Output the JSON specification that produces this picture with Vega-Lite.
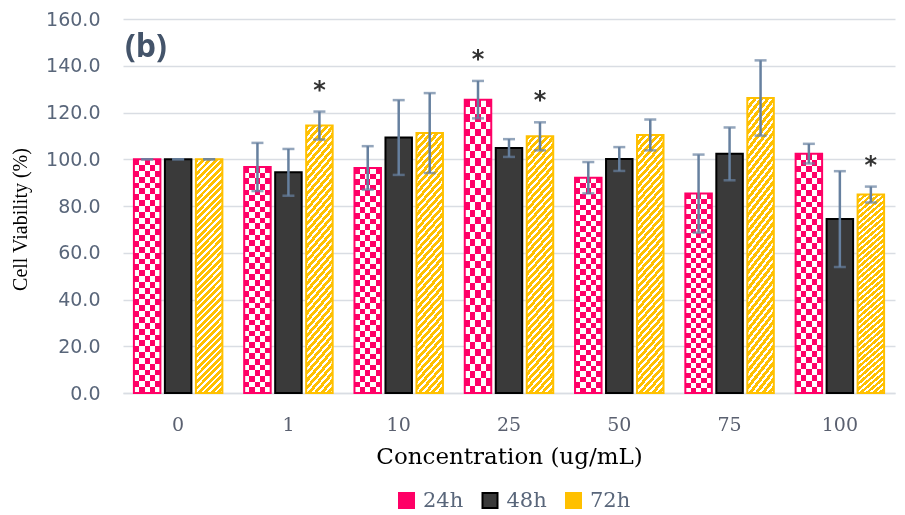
{
  "$schema": "https://vega.github.io/schema/vega-lite/v6.json",
  "width": 772,
  "height": 374,
  "autosize": {"type": "none"},
  "padding": {"left": 123, "top": 19, "right": 10, "bottom": 122},
  "background": "#ffffff",
  "title": {
    "text": "(b)",
    "anchor": "start",
    "frame": "group",
    "offset": -36,
    "dy": 43,
    "baseline": "alphabetic",
    "dx": 2,
    "font": "Open Sans",
    "fontSize": 32,
    "fontWeight": "bold",
    "color": "#44546a"
  },
  "data": {
    "values": [
      {"c": "0", "t": "24h", "v": 100, "e": 0, "s": ""},
      {"c": "0", "t": "48h", "v": 100, "e": 0, "s": ""},
      {"c": "0", "t": "72h", "v": 100, "e": 0, "s": ""},
      {"c": "1", "t": "24h", "v": 96.7, "e": 10.3, "s": ""},
      {"c": "1", "t": "48h", "v": 94.4, "e": 10.0, "s": ""},
      {"c": "1", "t": "72h", "v": 114.4, "e": 6.0, "s": "*"},
      {"c": "10", "t": "24h", "v": 96.3, "e": 9.3, "s": ""},
      {"c": "10", "t": "48h", "v": 109.3, "e": 16.0, "s": ""},
      {"c": "10", "t": "72h", "v": 111.2, "e": 17.1, "s": ""},
      {"c": "25", "t": "24h", "v": 125.5, "e": 8.0, "s": "*"},
      {"c": "25", "t": "48h", "v": 104.8, "e": 3.8, "s": ""},
      {"c": "25", "t": "72h", "v": 109.8, "e": 6.0, "s": "*"},
      {"c": "50", "t": "24h", "v": 92.1, "e": 6.7, "s": ""},
      {"c": "50", "t": "48h", "v": 100.1, "e": 5.1, "s": ""},
      {"c": "50", "t": "72h", "v": 110.4, "e": 6.6, "s": ""},
      {"c": "75", "t": "24h", "v": 85.3, "e": 16.7, "s": ""},
      {"c": "75", "t": "48h", "v": 102.3, "e": 11.3, "s": ""},
      {"c": "75", "t": "72h", "v": 126.2, "e": 16.1, "s": ""},
      {"c": "100", "t": "24h", "v": 102.4, "e": 4.2, "s": ""},
      {"c": "100", "t": "48h", "v": 74.4, "e": 20.5, "s": ""},
      {"c": "100", "t": "72h", "v": 84.9, "e": 3.4, "s": "*"}
    ]
  },
  "transform": [
    {"calculate": "datum.v - datum.e", "as": "lo"},
    {"calculate": "datum.v + datum.e", "as": "hi"}
  ],
  "encoding": {
    "x": {
      "field": "c",
      "type": "nominal",
      "scale": {"domain": ["0", "1", "10", "25", "50", "75", "100"], "paddingInner": 0.157, "paddingOuter": 0.0785},
      "axis": {
        "title": "Concentration (ug/mL)",
        "titleFont": "DejaVu Serif",
        "titleFontSize": 23,
        "titleFontWeight": "normal",
        "titleColor": "#000000",
        "titleBaseline": "alphabetic",
        "titleY": 70,
        "labelAngle": 0,
        "labelFont": "DejaVu Serif",
        "labelFontSize": 19,
        "labelColor": "#5a6070",
        "labelPadding": 22,
        "ticks": false,
        "tickSize": 0,
        "domainColor": "#d9dde3",
        "domainWidth": 1.5,
        "grid": false
      }
    },
    "xOffset": {
      "field": "t",
      "type": "nominal",
      "scale": {"domain": ["24h", "48h", "72h"], "paddingInner": 0.145, "paddingOuter": 0.0725}
    },
    "y": {
      "field": "v",
      "type": "quantitative",
      "scale": {"domain": [0, 160]},
      "axis": {
        "title": "Cell Viability (%)",
        "titleFont": "Liberation Serif",
        "titleFontSize": 20,
        "titleFontWeight": "normal",
        "titleColor": "#000000",
        "titleBaseline": "middle",
        "titleX": -103,
        "titleY": 200,
        "values": [0, 20, 40, 60, 80, 100, 120, 140, 160],
        "format": ".1f",
        "labelFont": "DejaVu Sans",
        "labelFontSize": 19,
        "labelColor": "#59667a",
        "labelPadding": 23,
        "ticks": false,
        "tickSize": 0,
        "domain": false,
        "grid": true,
        "gridColor": "#d9dde3",
        "gridWidth": 1.5
      }
    }
  },
  "layer": [
    {
      "mark": {"type": "bar"},
      "encoding": {
        "fill": {
          "field": "t",
          "type": "nominal",
          "scale": {"domain": ["24h", "48h", "72h"], "range": ["#ff0066", "#3a3a3a", "#ffc000"]},
          "legend": {
            "title": null,
            "orient": "none",
            "legendX": 273,
            "legendY": 471,
            "direction": "horizontal",
            "symbolType": "square",
            "symbolSize": 225,
            "symbolStrokeWidth": 2,
            "labelFont": "DejaVu Serif",
            "labelFontSize": 21,
            "labelColor": "#59667a",
            "labelOffset": 6,
            "columnPadding": 14.5,
            "encode": {
              "symbols": {
                "update": {
                  "fill": [
                    {
                      "test": "datum.value === '72h'",
                      "value": {
                        "gradient": "linear", "x1": 0, "y1": 0, "x2": 1, "y2": 1,
                        "stops": [
                          {"offset": 0, "color": "#ffc000"}, {"offset": 0.22, "color": "#ffc000"},
                          {"offset": 0.22, "color": "#fff"}, {"offset": 0.36, "color": "#fff"},
                          {"offset": 0.36, "color": "#ffc000"}, {"offset": 0.64, "color": "#ffc000"},
                          {"offset": 0.64, "color": "#fff"}, {"offset": 0.78, "color": "#fff"},
                          {"offset": 0.78, "color": "#ffc000"}, {"offset": 1, "color": "#ffc000"}
                        ]
                      }
                    },
                    {"scale": "fill", "field": "value"}
                  ]
                }
              }
            }
          }
        }
      }
    },
    {
      "transform": [{"filter": "datum.t === '24h'"}],
      "mark": {
        "type": "bar",
        "fill": {
          "gradient": "linear", "x1": 0, "y1": 0, "x2": 1, "y2": 0,
          "stops": [
            {"offset": 0, "color": "#000"}, {"offset": 0.2, "color": "#000"},
            {"offset": 0.2, "color": "#fff"}, {"offset": 0.4, "color": "#fff"},
            {"offset": 0.4, "color": "#000"}, {"offset": 0.6, "color": "#000"},
            {"offset": 0.6, "color": "#fff"}, {"offset": 0.8, "color": "#fff"},
            {"offset": 0.8, "color": "#000"}, {"offset": 1, "color": "#000"}
          ]
        }
      }
    },
    {
      "transform": [{"filter": "datum.t === '24h'"}],
      "mark": {
        "type": "bar",
        "blend": "difference",
        "fill": {
          "gradient": "linear", "x1": 0, "y1": 0, "x2": 0, "y2": 1,
          "stops": [
            {"offset": 0, "color": "#000"}, {"offset": 0.025, "color": "#000"},
            {"offset": 0.025, "color": "#fff"}, {"offset": 0.05, "color": "#fff"},
            {"offset": 0.05, "color": "#000"}, {"offset": 0.075, "color": "#000"},
            {"offset": 0.075, "color": "#fff"}, {"offset": 0.1, "color": "#fff"},
            {"offset": 0.1, "color": "#000"}, {"offset": 0.125, "color": "#000"},
            {"offset": 0.125, "color": "#fff"}, {"offset": 0.15, "color": "#fff"},
            {"offset": 0.15, "color": "#000"}, {"offset": 0.175, "color": "#000"},
            {"offset": 0.175, "color": "#fff"}, {"offset": 0.2, "color": "#fff"},
            {"offset": 0.2, "color": "#000"}, {"offset": 0.225, "color": "#000"},
            {"offset": 0.225, "color": "#fff"}, {"offset": 0.25, "color": "#fff"},
            {"offset": 0.25, "color": "#000"}, {"offset": 0.275, "color": "#000"},
            {"offset": 0.275, "color": "#fff"}, {"offset": 0.3, "color": "#fff"},
            {"offset": 0.3, "color": "#000"}, {"offset": 0.325, "color": "#000"},
            {"offset": 0.325, "color": "#fff"}, {"offset": 0.35, "color": "#fff"},
            {"offset": 0.35, "color": "#000"}, {"offset": 0.375, "color": "#000"},
            {"offset": 0.375, "color": "#fff"}, {"offset": 0.4, "color": "#fff"},
            {"offset": 0.4, "color": "#000"}, {"offset": 0.425, "color": "#000"},
            {"offset": 0.425, "color": "#fff"}, {"offset": 0.45, "color": "#fff"},
            {"offset": 0.45, "color": "#000"}, {"offset": 0.475, "color": "#000"},
            {"offset": 0.475, "color": "#fff"}, {"offset": 0.5, "color": "#fff"},
            {"offset": 0.5, "color": "#000"}, {"offset": 0.525, "color": "#000"},
            {"offset": 0.525, "color": "#fff"}, {"offset": 0.55, "color": "#fff"},
            {"offset": 0.55, "color": "#000"}, {"offset": 0.575, "color": "#000"},
            {"offset": 0.575, "color": "#fff"}, {"offset": 0.6, "color": "#fff"},
            {"offset": 0.6, "color": "#000"}, {"offset": 0.625, "color": "#000"},
            {"offset": 0.625, "color": "#fff"}, {"offset": 0.65, "color": "#fff"},
            {"offset": 0.65, "color": "#000"}, {"offset": 0.675, "color": "#000"},
            {"offset": 0.675, "color": "#fff"}, {"offset": 0.7, "color": "#fff"},
            {"offset": 0.7, "color": "#000"}, {"offset": 0.725, "color": "#000"},
            {"offset": 0.725, "color": "#fff"}, {"offset": 0.75, "color": "#fff"},
            {"offset": 0.75, "color": "#000"}, {"offset": 0.775, "color": "#000"},
            {"offset": 0.775, "color": "#fff"}, {"offset": 0.8, "color": "#fff"},
            {"offset": 0.8, "color": "#000"}, {"offset": 0.825, "color": "#000"},
            {"offset": 0.825, "color": "#fff"}, {"offset": 0.85, "color": "#fff"},
            {"offset": 0.85, "color": "#000"}, {"offset": 0.875, "color": "#000"},
            {"offset": 0.875, "color": "#fff"}, {"offset": 0.9, "color": "#fff"},
            {"offset": 0.9, "color": "#000"}, {"offset": 0.925, "color": "#000"},
            {"offset": 0.925, "color": "#fff"}, {"offset": 0.95, "color": "#fff"},
            {"offset": 0.95, "color": "#000"}, {"offset": 0.975, "color": "#000"},
            {"offset": 0.975, "color": "#fff"}, {"offset": 1, "color": "#fff"}
          ]
        }
      }
    },
    {
      "transform": [{"filter": "datum.t === '24h'"}],
      "mark": {"type": "bar", "blend": "screen", "fill": "#ff0066"}
    },
    {
      "transform": [{"filter": "datum.t === '72h'"}],
      "mark": {
        "type": "bar",
        "fill": {
          "gradient": "linear", "x1": 0, "y1": 0, "x2": 0.127, "y2": 1.1,
          "stops": [
            {"offset": 0, "color": "#ffc000"}, {"offset": 0.015, "color": "#ffc000"}, {"offset": 0.015, "color": "#fff"}, {"offset": 0.025, "color": "#fff"},
            {"offset": 0.025, "color": "#ffc000"}, {"offset": 0.04, "color": "#ffc000"}, {"offset": 0.04, "color": "#fff"}, {"offset": 0.05, "color": "#fff"},
            {"offset": 0.05, "color": "#ffc000"}, {"offset": 0.065, "color": "#ffc000"}, {"offset": 0.065, "color": "#fff"}, {"offset": 0.075, "color": "#fff"},
            {"offset": 0.075, "color": "#ffc000"}, {"offset": 0.09, "color": "#ffc000"}, {"offset": 0.09, "color": "#fff"}, {"offset": 0.1, "color": "#fff"},
            {"offset": 0.1, "color": "#ffc000"}, {"offset": 0.115, "color": "#ffc000"}, {"offset": 0.115, "color": "#fff"}, {"offset": 0.125, "color": "#fff"},
            {"offset": 0.125, "color": "#ffc000"}, {"offset": 0.14, "color": "#ffc000"}, {"offset": 0.14, "color": "#fff"}, {"offset": 0.15, "color": "#fff"},
            {"offset": 0.15, "color": "#ffc000"}, {"offset": 0.165, "color": "#ffc000"}, {"offset": 0.165, "color": "#fff"}, {"offset": 0.175, "color": "#fff"},
            {"offset": 0.175, "color": "#ffc000"}, {"offset": 0.19, "color": "#ffc000"}, {"offset": 0.19, "color": "#fff"}, {"offset": 0.2, "color": "#fff"},
            {"offset": 0.2, "color": "#ffc000"}, {"offset": 0.215, "color": "#ffc000"}, {"offset": 0.215, "color": "#fff"}, {"offset": 0.225, "color": "#fff"},
            {"offset": 0.225, "color": "#ffc000"}, {"offset": 0.24, "color": "#ffc000"}, {"offset": 0.24, "color": "#fff"}, {"offset": 0.25, "color": "#fff"},
            {"offset": 0.25, "color": "#ffc000"}, {"offset": 0.265, "color": "#ffc000"}, {"offset": 0.265, "color": "#fff"}, {"offset": 0.275, "color": "#fff"},
            {"offset": 0.275, "color": "#ffc000"}, {"offset": 0.29, "color": "#ffc000"}, {"offset": 0.29, "color": "#fff"}, {"offset": 0.3, "color": "#fff"},
            {"offset": 0.3, "color": "#ffc000"}, {"offset": 0.315, "color": "#ffc000"}, {"offset": 0.315, "color": "#fff"}, {"offset": 0.325, "color": "#fff"},
            {"offset": 0.325, "color": "#ffc000"}, {"offset": 0.34, "color": "#ffc000"}, {"offset": 0.34, "color": "#fff"}, {"offset": 0.35, "color": "#fff"},
            {"offset": 0.35, "color": "#ffc000"}, {"offset": 0.365, "color": "#ffc000"}, {"offset": 0.365, "color": "#fff"}, {"offset": 0.375, "color": "#fff"},
            {"offset": 0.375, "color": "#ffc000"}, {"offset": 0.39, "color": "#ffc000"}, {"offset": 0.39, "color": "#fff"}, {"offset": 0.4, "color": "#fff"},
            {"offset": 0.4, "color": "#ffc000"}, {"offset": 0.415, "color": "#ffc000"}, {"offset": 0.415, "color": "#fff"}, {"offset": 0.425, "color": "#fff"},
            {"offset": 0.425, "color": "#ffc000"}, {"offset": 0.44, "color": "#ffc000"}, {"offset": 0.44, "color": "#fff"}, {"offset": 0.45, "color": "#fff"},
            {"offset": 0.45, "color": "#ffc000"}, {"offset": 0.465, "color": "#ffc000"}, {"offset": 0.465, "color": "#fff"}, {"offset": 0.475, "color": "#fff"},
            {"offset": 0.475, "color": "#ffc000"}, {"offset": 0.49, "color": "#ffc000"}, {"offset": 0.49, "color": "#fff"}, {"offset": 0.5, "color": "#fff"},
            {"offset": 0.5, "color": "#ffc000"}, {"offset": 0.515, "color": "#ffc000"}, {"offset": 0.515, "color": "#fff"}, {"offset": 0.525, "color": "#fff"},
            {"offset": 0.525, "color": "#ffc000"}, {"offset": 0.54, "color": "#ffc000"}, {"offset": 0.54, "color": "#fff"}, {"offset": 0.55, "color": "#fff"},
            {"offset": 0.55, "color": "#ffc000"}, {"offset": 0.565, "color": "#ffc000"}, {"offset": 0.565, "color": "#fff"}, {"offset": 0.575, "color": "#fff"},
            {"offset": 0.575, "color": "#ffc000"}, {"offset": 0.59, "color": "#ffc000"}, {"offset": 0.59, "color": "#fff"}, {"offset": 0.6, "color": "#fff"},
            {"offset": 0.6, "color": "#ffc000"}, {"offset": 0.615, "color": "#ffc000"}, {"offset": 0.615, "color": "#fff"}, {"offset": 0.625, "color": "#fff"},
            {"offset": 0.625, "color": "#ffc000"}, {"offset": 0.64, "color": "#ffc000"}, {"offset": 0.64, "color": "#fff"}, {"offset": 0.65, "color": "#fff"},
            {"offset": 0.65, "color": "#ffc000"}, {"offset": 0.665, "color": "#ffc000"}, {"offset": 0.665, "color": "#fff"}, {"offset": 0.675, "color": "#fff"},
            {"offset": 0.675, "color": "#ffc000"}, {"offset": 0.69, "color": "#ffc000"}, {"offset": 0.69, "color": "#fff"}, {"offset": 0.7, "color": "#fff"},
            {"offset": 0.7, "color": "#ffc000"}, {"offset": 0.715, "color": "#ffc000"}, {"offset": 0.715, "color": "#fff"}, {"offset": 0.725, "color": "#fff"},
            {"offset": 0.725, "color": "#ffc000"}, {"offset": 0.74, "color": "#ffc000"}, {"offset": 0.74, "color": "#fff"}, {"offset": 0.75, "color": "#fff"},
            {"offset": 0.75, "color": "#ffc000"}, {"offset": 0.765, "color": "#ffc000"}, {"offset": 0.765, "color": "#fff"}, {"offset": 0.775, "color": "#fff"},
            {"offset": 0.775, "color": "#ffc000"}, {"offset": 0.79, "color": "#ffc000"}, {"offset": 0.79, "color": "#fff"}, {"offset": 0.8, "color": "#fff"},
            {"offset": 0.8, "color": "#ffc000"}, {"offset": 0.815, "color": "#ffc000"}, {"offset": 0.815, "color": "#fff"}, {"offset": 0.825, "color": "#fff"},
            {"offset": 0.825, "color": "#ffc000"}, {"offset": 0.84, "color": "#ffc000"}, {"offset": 0.84, "color": "#fff"}, {"offset": 0.85, "color": "#fff"},
            {"offset": 0.85, "color": "#ffc000"}, {"offset": 0.865, "color": "#ffc000"}, {"offset": 0.865, "color": "#fff"}, {"offset": 0.875, "color": "#fff"},
            {"offset": 0.875, "color": "#ffc000"}, {"offset": 0.89, "color": "#ffc000"}, {"offset": 0.89, "color": "#fff"}, {"offset": 0.9, "color": "#fff"},
            {"offset": 0.9, "color": "#ffc000"}, {"offset": 0.915, "color": "#ffc000"}, {"offset": 0.915, "color": "#fff"}, {"offset": 0.925, "color": "#fff"},
            {"offset": 0.925, "color": "#ffc000"}, {"offset": 0.94, "color": "#ffc000"}, {"offset": 0.94, "color": "#fff"}, {"offset": 0.95, "color": "#fff"},
            {"offset": 0.95, "color": "#ffc000"}, {"offset": 0.965, "color": "#ffc000"}, {"offset": 0.965, "color": "#fff"}, {"offset": 0.975, "color": "#fff"},
            {"offset": 0.975, "color": "#ffc000"}, {"offset": 0.99, "color": "#ffc000"}, {"offset": 0.99, "color": "#fff"}, {"offset": 1, "color": "#fff"}
          ]
        }
      }
    },
    {
      "mark": {"type": "bar", "fill": "transparent", "strokeWidth": 2},
      "encoding": {
        "stroke": {
          "field": "t",
          "type": "nominal",
          "scale": {"domain": ["24h", "48h", "72h"], "range": ["#ff0066", "#000000", "#ffc000"]},
          "legend": null
        }
      }
    },
    {
      "mark": {"type": "rule", "color": "#66809f", "strokeWidth": 2.5},
      "encoding": {
        "y": {"field": "lo", "type": "quantitative"},
        "y2": {"field": "hi"}
      }
    },
    {
      "mark": {"type": "tick", "color": "#66809f", "size": 12, "thickness": 2.5},
      "encoding": {"y": {"field": "lo", "type": "quantitative"}}
    },
    {
      "mark": {"type": "tick", "color": "#66809f", "size": 12, "thickness": 2.5},
      "encoding": {"y": {"field": "hi", "type": "quantitative"}}
    },
    {
      "transform": [{"filter": "datum.s !== ''"}],
      "mark": {"type": "text", "font": "DejaVu Sans", "fontSize": 24, "fontWeight": "bold", "color": "#333333", "baseline": "alphabetic", "dy": -14},
      "encoding": {
        "y": {"field": "hi", "type": "quantitative"},
        "text": {"field": "s"}
      }
    }
  ],
  "config": {
    "view": {"stroke": null}
  }
}
